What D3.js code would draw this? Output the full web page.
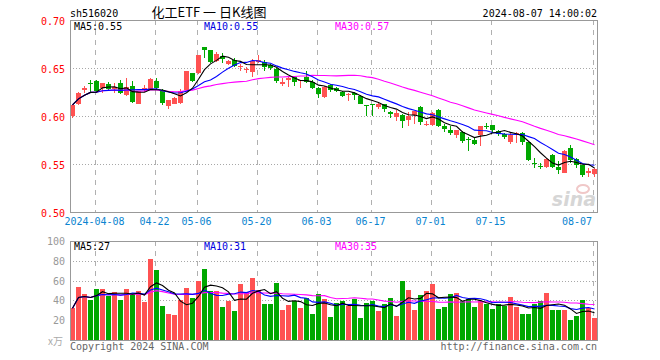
<!DOCTYPE html>
<html><head><meta charset="utf-8">
<script src="https://cdn.jsdelivr.net/npm/d3@7/dist/d3.min.js"></script>
<style>html,body{margin:0;padding:0;background:#fff}svg{display:block}</style>
</head><body>
<svg id="chart" width="660" height="360"></svg>
<script>
const dates = [
"2024-03-29",
"2024-04-01","2024-04-02","2024-04-03","2024-04-08","2024-04-09","2024-04-10","2024-04-11","2024-04-12",
"2024-04-15","2024-04-16","2024-04-17","2024-04-18","2024-04-19","2024-04-22","2024-04-23","2024-04-24",
"2024-04-25","2024-04-26","2024-04-29","2024-04-30",
"2024-05-06","2024-05-07","2024-05-08","2024-05-09","2024-05-10","2024-05-13","2024-05-14","2024-05-15",
"2024-05-16","2024-05-17","2024-05-20","2024-05-21","2024-05-22","2024-05-23","2024-05-24","2024-05-27",
"2024-05-28","2024-05-29","2024-05-30","2024-05-31",
"2024-06-03","2024-06-04","2024-06-05","2024-06-06","2024-06-07","2024-06-11","2024-06-12","2024-06-13",
"2024-06-14","2024-06-17","2024-06-18","2024-06-19","2024-06-20","2024-06-21","2024-06-24","2024-06-25",
"2024-06-26","2024-06-27","2024-06-28",
"2024-07-01","2024-07-02","2024-07-03","2024-07-04","2024-07-05","2024-07-08","2024-07-09","2024-07-10",
"2024-07-11","2024-07-12","2024-07-15","2024-07-16","2024-07-17","2024-07-18","2024-07-19","2024-07-22",
"2024-07-23","2024-07-24","2024-07-25","2024-07-26","2024-07-29","2024-07-30","2024-07-31",
"2024-08-01","2024-08-02","2024-08-05","2024-08-06","2024-08-07"];

const open = [.5995,.6125,.627,.634,.636,.629,.6333,.6285,.6347,.6215,
.6313,.6128,.6277,.6271,.6368,.6264,.610,.6128,.6135,.6274,
.6448,.6448,.6715,.6688,.6576,.6622,.6542,.6587,.651,.648,
.6455,.6565,.6559,.6531,.649,.6337,.6379,.641,.636,.641,
.635,.6295,.620,.6323,.6288,.6253,.622,.6236,.6205,.6115,
.6122,.609,.6122,.6045,.5993,.601,.5958,.601,.6097,.591,
.5906,.6063,.5896,.5854,.5802,.5833,.576,.575,.5799,.5899,
.5906,.5847,.5812,.5733,.5819,.5826,.5733,.551,.5481,.5472,
.5594,.5472,.541,.5663,.5549,.549,.541,.5396];
const high = [.6115,.6245,.631,.637,.638,.634,.635,.634,.637,.6395,
.636,.626,.6326,.6396,.6396,.628,.617,.620,.628,.6468,
.6448,.6632,.6715,.6688,.6665,.6655,.658,.660,.654,.651,
.659,.6635,.6583,.654,.650,.640,.641,.642,.6375,.647,
.6375,.630,.631,.633,.6306,.626,.6236,.6246,.622,.6118,
.613,.615,.613,.605,.6062,.602,.6045,.6055,.610,.595,
.6045,.607,.5917,.5896,.5858,.584,.5785,.5767,.590,.5924,
.5906,.5854,.5819,.5819,.5833,.5833,.5733,.556,.5507,.556,
.560,.5535,.5646,.5698,.556,.549,.5455,.5455];
const low = [.598,.611,.624,.625,.624,.624,.626,.624,.623,.6205,
.614,.612,.6247,.6271,.6275,.6115,.607,.612,.6128,.626,
.635,.644,.660,.655,.6565,.655,.653,.651,.6465,.6448,
.641,.655,.647,.648,.634,.6316,.6305,.6316,.6295,.634,
.628,.6184,.619,.6253,.6246,.620,.6156,.6163,.612,.6003,
.6003,.6073,.6045,.5983,.5948,.5878,.590,.5917,.5906,.5895,
.5896,.589,.5837,.580,.5767,.5715,.5639,.5698,.5687,.5861,
.582,.5792,.5757,.5708,.5715,.5698,.553,.5455,.5444,.5462,
.5455,.5396,.5403,.5514,.5455,.5368,.5361,.5368];
const close = [.6115,.6243,.629,.6335,.6257,.634,.6285,.630,.624,.630,
.6146,.6257,.6292,.6382,.6292,.6135,.6163,.6188,.6264,.6465,
.6368,.6632,.6688,.6563,.6646,.659,.6576,.6517,.6517,.6485,
.6573,.658,.6514,.6503,.6365,.6358,.640,.635,.6375,.6358,
.6295,.623,.6306,.6274,.6264,.6212,.6233,.6222,.6125,.6112,
.6118,.6125,.607,.6017,.6028,.5948,.6003,.6052,.5941,.592,
.6035,.5896,.5861,.582,.5854,.5736,.5757,.5708,.5896,.5896,
.5854,.5812,.5785,.5799,.5826,.5733,.5542,.5507,.5479,.5549,
.5472,.5437,.5639,.5542,.549,.5385,.5427,.5448];
const volume = [32,54,46,40,52,52,44,48,40,52,
47,50,38,82,71,34,26,25,40,53,
42,60,72,50,49,33,39,29,57,48,
63,51,36,36,58,30,35,39,32,42,
26,46,41,23,37,39,34,41,22,37,
39,29,36,42,24,60,51,30,45,50,
57,31,33,46,47,39,41,33,39,36,
31,36,34,43,33,26,26,36,39,47,
30,30,30,20,24,40,32,22];

const priceTicks = [0.70,0.65,0.60,0.55,0.50];
const volTicks = [100,80,60,40,20];
const dateTicks = ["2024-04-08","2024-04-22","2024-05-06","2024-05-20","2024-06-03","2024-06-17","2024-07-01","2024-07-15","2024-08-07"];
const dateTickLabels = ["2024-04-08","04-22","05-06","05-20","06-03","06-17","07-01","07-15","08-07"];
const maPeriods = [5,10,30];

const RED = "#ff5252", GREEN = "#00a800";
const MA_COLORS = ["#000000","#0000ff","#ff00ff"];
const MONO = "'DejaVu Sans Mono', monospace";

const svg = d3.select("#chart");
svg.append("rect").attr("width",660).attr("height",360).attr("fill","#fff");

const L = 70, R = 597, PT = 20, PB = 212, VT = 241, VB = 340;
const x = d3.scaleBand().domain(dates).range([L, L + dates.length*6]).paddingInner(1/6).paddingOuter(1/12).align(0);
const y = d3.scaleLinear().domain([0.5,0.7]).range([PB, PT]);
const yv = d3.scaleLinear().domain([0,100]).range([VB, VT]);

function ma(arr, n){
  return arr.map((_,i)=>{ const s = Math.max(0,i-n+1); const sl = arr.slice(s,i+1); return d3.mean(sl); });
}

// grids
const grid = svg.append("g");
function hgrid(scale, vals){
  vals.forEach(v=>{
    const yy = Math.round(scale(v))+0.5;
    grid.append("line").attr("x1",L).attr("x2",R).attr("y1",yy).attr("y2",yy)
      .attr("stroke","#a8a8a8").attr("stroke-dasharray","1,2");
  });
}
hgrid(y, priceTicks.slice(1,-1));
hgrid(yv, volTicks.slice(1));
dateTicks.forEach(d=>{
  const gx = Math.floor(x(d))+1.5;
  [[PT,PB],[VT,VB]].forEach(([a,b])=>{
    grid.append("line").attr("x1",gx).attr("x2",gx).attr("y1",a).attr("y2",b)
      .attr("stroke","#b0b0b0").attr("stroke-dasharray","5,5");
  });
});

// candles
const cg = svg.append("g").attr("shape-rendering","crispEdges");
dates.forEach((d,i)=>{
  const up = close[i] >= open[i];
  const col = up ? RED : GREEN;
  const xx = x(d);
  const yh = y(high[i]), yl = y(low[i]);
  cg.append("rect").attr("x",xx+2).attr("width",1).attr("y",yh).attr("height",Math.max(1,yl-yh)).attr("fill",col);
  const yo = y(open[i]), yc = y(close[i]);
  cg.append("rect").attr("x",xx).attr("width",x.bandwidth()).attr("y",Math.min(yo,yc)).attr("height",Math.max(1,Math.abs(yo-yc))).attr("fill",col);
  cg.append("rect").attr("x",xx).attr("width",x.bandwidth()).attr("y",yv(volume[i])).attr("height",yv(0)-yv(volume[i])).attr("fill",col);
});

// MA lines
const priceMAs = maPeriods.map(n=>ma(close,n));
const volMAs = maPeriods.map(n=>ma(volume,n));
const lineP = d3.line().x((v,i)=>x(dates[i])+2.5).y(v=>y(v));
const lineV = d3.line().x((v,i)=>x(dates[i])+2.5).y(v=>yv(v));
[2,1,0].forEach(k=>{
  svg.append("path").attr("d",lineP(priceMAs[k])).attr("fill","none").attr("stroke",MA_COLORS[k]).attr("stroke-width",1.1);
  svg.append("path").attr("d",lineV(volMAs[k])).attr("fill","none").attr("stroke",MA_COLORS[k]).attr("stroke-width",1.1);
});

// watermark
const wm = svg.append("g");
wm.append("ellipse").attr("cx",583).attr("cy",189).attr("rx",6).attr("ry",4).attr("fill","none").attr("stroke","#f0c8c8").attr("stroke-width",2);
wm.append("text").attr("x",596).attr("y",206).attr("text-anchor","end")
  .attr("font-family","'DejaVu Sans', sans-serif").attr("font-size",19).attr("font-weight","bold").attr("font-style","italic")
  .attr("fill","#d6d6d6").text("sina");

// frames
const fr = svg.append("g").attr("fill","none").attr("stroke","#999").attr("shape-rendering","crispEdges");
fr.append("rect").attr("x",L+0.5).attr("y",PT+0.5).attr("width",R-L).attr("height",PB-PT);
fr.append("rect").attr("x",L+0.5).attr("y",VT+0.5).attr("width",R-L).attr("height",VB-VT);

// axis labels
const ax = svg.append("g").attr("font-family",MONO).attr("font-size",10);
priceTicks.forEach(v=>{
  ax.append("text").attr("x",65).attr("y",y(v)+4.5).attr("text-anchor","end").attr("fill","#ff0000").text(v.toFixed(2));
});
volTicks.forEach(v=>{
  ax.append("text").attr("x",65).attr("y",yv(v)+4).attr("text-anchor","end").attr("fill","#999").text(v);
});
ax.append("text").attr("x",63).attr("y",345).attr("text-anchor","end").attr("fill","#aaa")
  .attr("font-family","'Noto Sans CJK SC', sans-serif").attr("font-size",10).text("x万");
dateTicks.forEach((d,i)=>{
  const gx = Math.floor(x(d))+0.5;
  const last = i === dateTicks.length-1;
  ax.append("text").attr("x", last ? 592 : gx).attr("y",225)
    .attr("text-anchor", last ? "end" : "middle").attr("fill","#0a84d0").text(dateTickLabels[i]);
});

// legends
const lg = svg.append("g").attr("font-family",MONO).attr("font-size",10);
const legX = [74,204,335];
maPeriods.forEach((n,k)=>{
  const pv = priceMAs[k][priceMAs[k].length-1];
  const vv = volMAs[k][volMAs[k].length-1];
  lg.append("text").attr("x",legX[k]).attr("y",29.5).attr("fill",MA_COLORS[k]==="#0000ff"?"#0000e0":MA_COLORS[k]).text("MA"+n+":"+pv.toFixed(2));
  lg.append("text").attr("x",legX[k]).attr("y",249.5).attr("fill",MA_COLORS[k]==="#0000ff"?"#0000e0":MA_COLORS[k]).text("MA"+n+":"+Math.floor(vv));
});

// header
const hd = svg.append("g");
hd.append("text").attr("x",70).attr("y",17).attr("font-family",MONO).attr("font-size",10).attr("fill","#000").text("sh516020");
hd.append("text").attr("x",597).attr("y",17).attr("text-anchor","end").attr("font-family",MONO).attr("font-size",10).attr("fill","#000").text("2024-08-07 14:00:02");
hd.append("text").attr("x",209).attr("y",17).attr("text-anchor","middle").attr("font-family","'Noto Sans CJK SC', sans-serif").attr("font-size",13).attr("fill","#000").text("化工ETF 一 日K线图");

// footer
const ft = svg.append("g").attr("font-family",MONO).attr("font-size",10).attr("fill","#666");
ft.append("text").attr("x",70).attr("y",350).text("Copyright 2024 SINA.COM");
ft.append("text").attr("x",597).attr("y",350).attr("text-anchor","end").text("http://finance.sina.com.cn");
</script>
</body></html>
